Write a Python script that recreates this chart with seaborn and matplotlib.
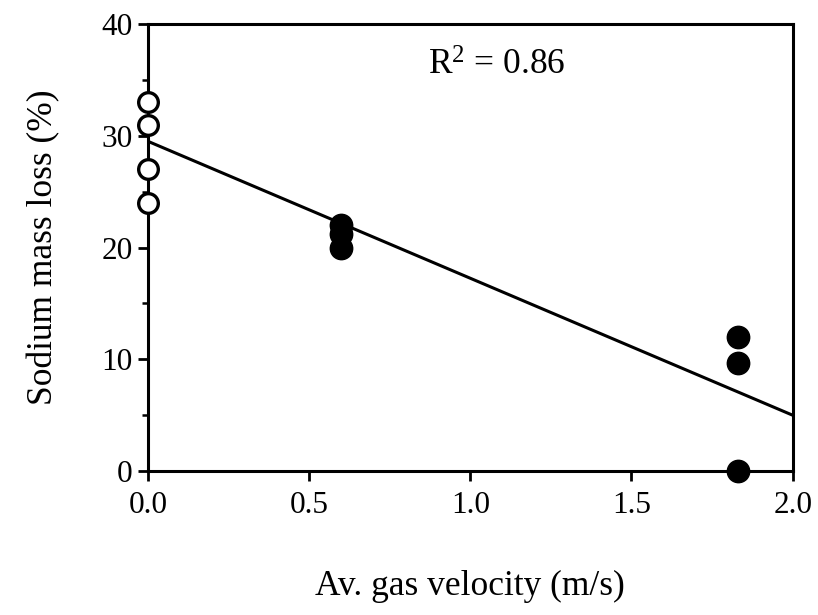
import numpy as np
import pandas as pd
import matplotlib
matplotlib.use("Agg")
import matplotlib.pyplot as plt
import seaborn as sns
from matplotlib.ticker import MultipleLocator

# Data
open_x = [0.0, 0.0, 0.0, 0.0]
open_y = [33.0, 31.0, 27.0, 24.0]
filled_x = [0.6, 0.6, 0.6, 1.83, 1.83, 1.83]
filled_y = [22.0, 21.2, 20.0, 12.0, 9.7, 0.0]
fit_intercept = 29.5
fit_slope = -12.25
fit_x_range = [0.0, 2.0]
r2_label = "R$^2$ = 0.86"
x_ticks = [0.0, 0.5, 1.0, 1.5, 2.0]
x_tick_labels = ["0.0", "0.5", "1.0", "1.5", "2.0"]
y_ticks = [0, 10, 20, 30, 40]
x_label = "Av. gas velocity (m/s)"
y_label = "Sodium mass loss (%)"

sns.set_theme(style="white")
plt.rcParams["font.family"] = ["Liberation Serif", "DejaVu Serif"]
plt.rcParams["mathtext.fontset"] = "custom"
plt.rcParams["mathtext.rm"] = "Liberation Serif"
plt.rcParams["mathtext.it"] = "Liberation Serif:italic"
plt.rcParams["text.color"] = "black"
plt.rcParams["axes.labelcolor"] = "black"
plt.rcParams["xtick.color"] = "black"
plt.rcParams["ytick.color"] = "black"

fig = plt.figure(figsize=(8.18, 6.15), dpi=100)
ax = fig.add_axes([0.181, 0.234, 0.788, 0.727])

fit_df = pd.DataFrame({"x": fit_x_range,
                       "y": [fit_intercept + fit_slope * v for v in fit_x_range]})
sns.lineplot(data=fit_df, x="x", y="y", ax=ax, color="black", linewidth=2.2, zorder=2)

df_open = pd.DataFrame({"x": open_x, "y": open_y})
df_filled = pd.DataFrame({"x": filled_x, "y": filled_y})
sns.scatterplot(data=df_open, x="x", y="y", ax=ax, s=200, facecolor="white",
                edgecolor="black", linewidth=2.4, zorder=4, clip_on=False)
sns.scatterplot(data=df_filled, x="x", y="y", ax=ax, s=260, color="black",
                edgecolor="black", linewidth=1, zorder=4, clip_on=False)

ax.set_xlim(0, 2.0)
ax.set_ylim(0, 40)
ax.set_xticks(x_ticks)
ax.set_xticklabels(x_tick_labels)
ax.set_yticks(y_ticks)
ax.yaxis.set_minor_locator(MultipleLocator(5))

for s in ax.spines.values():
    s.set_visible(True)
    s.set_color("black")
    s.set_linewidth(2.2)

ax.tick_params(axis="both", which="major", direction="out", length=7, width=2,
               labelsize=22.5, color="black", labelcolor="black", pad=7,
               bottom=True, left=True)
ax.tick_params(axis="y", which="major", pad=4)
ax.tick_params(axis="y", which="minor", direction="out", length=4, width=1.8,
               left=True, color="black")

ax.set_xlabel(x_label, fontsize=25.5, labelpad=36)
ax.set_ylabel(y_label, fontsize=25.5, labelpad=30)

ax.text(1.082, 36.2, r2_label, fontsize=25.5, ha="center", va="center")

fig.savefig("out.png", dpi=100, facecolor="white")
